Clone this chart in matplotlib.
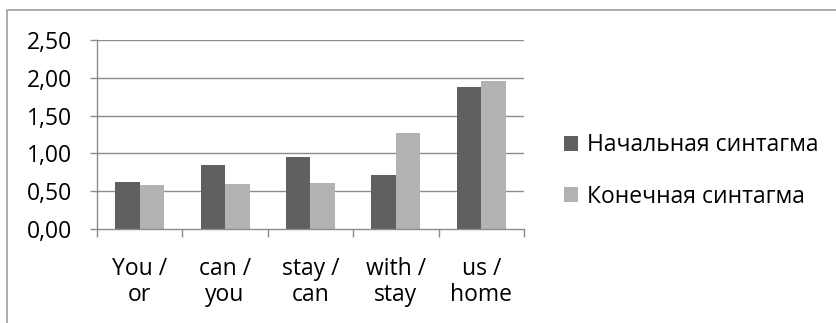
import matplotlib
matplotlib.use("Agg")
import matplotlib.pyplot as plt
from matplotlib.lines import Line2D
from matplotlib.patches import Patch
import numpy as np

plt.rcParams['font.family'] = ['Open Sans', 'DejaVu Sans']

categories = ["You /\nor", "can /\nyou", "stay /\ncan", "with /\nstay", "us /\nhome"]
initial_values = [0.62, 0.84, 0.95, 0.71, 1.88]
final_values = [0.58, 0.60, 0.61, 1.27, 1.96]
series_names = ["Начальная синтагма", "Конечная синтагма"]
y_ticks = [0.0, 0.5, 1.0, 1.5, 2.0, 2.5]
y_tick_labels = ["0,00", "0,50", "1,00", "1,50", "2,00", "2,50"]

W, H = 837, 323
fig = plt.figure(figsize=(W / 100, H / 100), dpi=100)
ax = fig.add_axes([97 / W, 94 / H, 427 / W, 189 / H])

dark = "#606060"
light = "#b2b2b2"
grid_c = "#8c8c8c"
fs = 16.5

x = np.arange(len(categories))
bw = 0.286
ax.bar(x - bw / 2, initial_values, bw, color=dark, edgecolor="none", zorder=3)
ax.bar(x + bw / 2, final_values, bw, color=light, edgecolor="none", zorder=3)

ax.set_xlim(-0.5, len(categories) - 0.5)
ax.set_ylim(0, 2.5)
ax.set_yticks(y_ticks)
ax.set_yticklabels(y_tick_labels, fontsize=fs)
ax.set_xticks(x)
ax.set_xticklabels(categories, fontsize=fs, linespacing=1.1)
ax.set_xticks(np.arange(len(categories) + 1) - 0.5, minor=True)

ax.tick_params(axis="x", which="major", length=0, pad=20)
ax.tick_params(axis="x", which="minor", length=6, width=1, color=grid_c, direction="out")
ax.tick_params(axis="y", length=5, width=1, color=grid_c, pad=13)

for y in y_ticks[1:]:
    ax.axhline(y, color=grid_c, lw=1, zorder=1)

for s in ["top", "right"]:
    ax.spines[s].set_visible(False)
for s in ["left", "bottom"]:
    ax.spines[s].set_color(grid_c)
    ax.spines[s].set_linewidth(1)
ax.spines["bottom"].set_zorder(4)

handles = [Patch(facecolor=dark, edgecolor="none"), Patch(facecolor=light, edgecolor="none")]
fig.legend(handles, series_names, loc="center left", bbox_to_anchor=(564 / W, 1 - 171 / H),
           frameon=False, fontsize=fs, handlelength=0.62, handleheight=0.62,
           handletextpad=0.4, labelspacing=1.2, borderaxespad=0, borderpad=0)

# outer chart frame (top and left edges)
fig.add_artist(Line2D([7.5 / W, 7.5 / W, 1.01], [-0.01, 1 - 9.5 / H, 1 - 9.5 / H],
                      transform=fig.transFigure, color="#a6a6a6", lw=1.3))

fig.savefig("out.png", dpi=100, facecolor="white")
